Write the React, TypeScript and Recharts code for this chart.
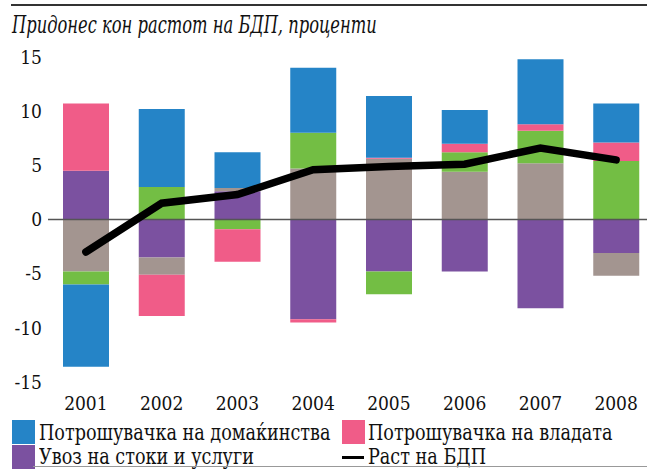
import { ComposedChart, Bar, Line, XAxis, YAxis, ReferenceLine } from "recharts";

const years = ["2001", "2002", "2003", "2004", "2005", "2006", "2007", "2008"];
const uvoz = [4.5, -3.5, 2.6, -9.2, -4.8, -4.8, -8.2, -3.1];
const investicii = [-4.8, -1.6, 0.3, 4.7, 5.6, 4.4, 5.2, -2.1];
const izvoz = [-1.2, 3.0, -0.9, 3.3, -2.1, 1.8, 3.0, 5.4];
const vlada = [6.2, -3.8, -3.0, -0.3, 0.1, 0.8, 0.6, 1.7];
const domakinstva = [-7.6, 7.2, 3.3, 6.0, 5.7, 3.1, 6.0, 3.6];
const rastBdp = [-3.0, 1.5, 2.3, 4.6, 4.9, 5.1, 6.6, 5.5];
const yTicks = [-15, -10, -5, 0, 5, 10, 15];

const BLUE = "#2584c7";
const PINK = "#f05c88";
const PURPLE = "#7b51a0";
const GRAY = "#a39590";
const GREEN = "#73be44";

const data = years.map((g, i) => ({
  godina: g,
  uvoz: uvoz[i],
  investicii: investicii[i],
  izvoz: izvoz[i],
  vlada: vlada[i],
  domakinstva: domakinstva[i],
  rast: rastBdp[i],
}));

const font = "'DejaVu Serif Condensed', 'DejaVu Serif'";
const tick = { fontSize: 19, fill: "#111", fontFamily: font };

function Swatch({ color, x, y }: { color: string; x: number; y: number }) {
  return <div style={{ position: "absolute", left: x, top: y, width: 23, height: 24, background: color }} />;
}

function Label({ text, x, y }: { text: string; x: number; y: number }) {
  return (
    <div
      style={{
        position: "absolute",
        left: x,
        top: y,
        fontSize: 22,
        lineHeight: "24px",
        color: "#111",
        whiteSpace: "nowrap",
        fontFamily: font,
        transform: "scaleX(0.89)",
        transformOrigin: "0 50%",
      }}
    >
      {text}
    </div>
  );
}

export default function App() {
  return (
    <div style={{ position: "absolute", left: 0, top: 0, width: 647, height: 469, overflow: "hidden", background: "#fff", fontFamily: font }}>
      <div style={{ position: "absolute", left: 11, top: 4, width: 636, height: 2, background: "#333" }} />
      <div
        style={{
          position: "absolute",
          left: 12,
          top: 9,
          fontSize: 24.5,
          fontStyle: "italic",
          lineHeight: "32px",
          color: "#111",
          whiteSpace: "nowrap",
          fontFamily: font,
          transform: "scaleX(0.74)",
          transformOrigin: "0 50%",
        }}
      >
        Придонес кон растот на БДП, проценти
      </div>
      <div style={{ position: "absolute", left: 0, top: 0, fontFamily: font }}>
        <ComposedChart width={647} height={420} data={data} stackOffset="sign" style={{ fontFamily: font }} margin={{ top: 57, right: -7, bottom: 0, left: 0 }}>
          <XAxis dataKey="godina" axisLine={false} tickLine={false} tickSize={0} tickMargin={15} height={38} tick={tick} interval={0} />
          <YAxis domain={[-15, 15]} ticks={yTicks} axisLine={false} tickLine={false} tickSize={0} tickMargin={6} width={48} tick={tick} interval={0} />
          <Bar dataKey="uvoz" name="Увоз на стоки и услуги" stackId="a" fill={PURPLE} barSize={46} isAnimationActive={false} />
          <Bar dataKey="investicii" name="Бруто инвестиции" stackId="a" fill={GRAY} barSize={46} isAnimationActive={false} />
          <Bar dataKey="izvoz" name="Извоз на стоки и услуги" stackId="a" fill={GREEN} barSize={46} isAnimationActive={false} />
          <Bar dataKey="vlada" name="Потрошувачка на владата" stackId="a" fill={PINK} barSize={46} isAnimationActive={false} />
          <Bar dataKey="domakinstva" name="Потрошувачка на домаќинства" stackId="a" fill={BLUE} barSize={46} isAnimationActive={false} />
          <ReferenceLine y={0} stroke="#555" strokeWidth={1.5} />
          <Line type="linear" dataKey="rast" name="Раст на БДП" stroke="#000" strokeWidth={7.5} strokeLinecap="round" dot={false} activeDot={false} isAnimationActive={false} />
        </ComposedChart>
      </div>
      <Swatch color={BLUE} x={12} y={420} />
      <Label text="Потрошувачка на домаќинства" x={39} y={421} />
      <Swatch color={PINK} x={342} y={420} />
      <Label text="Потрошувачка на владата" x={368} y={421} />
      <Swatch color={PURPLE} x={12} y={445} />
      <Label text="Увоз на стоки и услуги" x={39} y={445} />
      <div style={{ position: "absolute", left: 342, top: 456, width: 22, height: 3, background: "#000" }} />
      <Label text="Раст на БДП" x={368} y={445} />
      <div style={{ position: "absolute", left: 33, top: 466, width: 614, height: 1, background: "#999" }} />
    </div>
  );
}
